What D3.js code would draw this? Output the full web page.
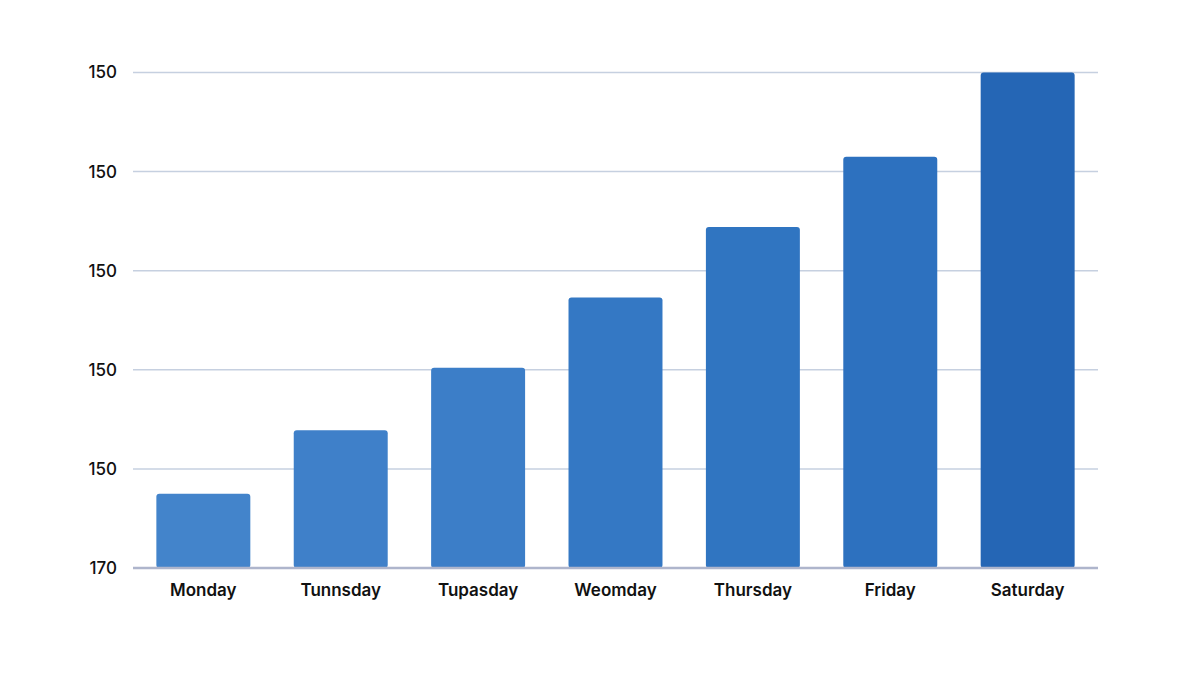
<!DOCTYPE html>
<html><head><meta charset="utf-8">
<script src="https://cdn.jsdelivr.net/npm/d3@7"></script>
<style>body{margin:0;background:#fff}</style></head>
<body><svg id="c" width="1200" height="678"></svg>
<script>
const categories=["Monday","Tunnsday","Tupasday","Weomday","Thursday","Friday","Saturday"];
const values=[0.75,1.39,2.02,2.73,3.44,4.15,5.0];
const tickValues=[0,1,2,3,4,5];
const tickLabels=["170","150","150","150","150","150"];
const barColors=["#4384cb","#3f80c9","#3c7ec8","#3478c4","#3075c1","#2d71bf","#2566b5"];

const svg=d3.select("#c");
const x=d3.scaleBand().domain(categories).range([133,1098]).paddingInner(0.316).paddingOuter(0.17);
const y=d3.scaleLinear().domain([0,5]).range([568,72.5]);

svg.append("g").selectAll("line").data(tickValues.slice(1)).join("line")
 .attr("x1",133).attr("x2",1098).attr("y1",d=>y(d)).attr("y2",d=>y(d))
 .attr("stroke","#c6d0e0").attr("stroke-width",1.5);

svg.append("g").selectAll("rect").data(values).join("rect")
 .attr("x",(d,i)=>x(categories[i])).attr("width",x.bandwidth())
 .attr("y",d=>y(d)).attr("height",d=>y(0)-y(d)).attr("rx",3)
 .attr("fill",(d,i)=>barColors[i]);

svg.append("line").attr("x1",133).attr("x2",1098).attr("y1",y(0)).attr("y2",y(0))
 .attr("stroke","#aeb5cc").attr("stroke-width",2.5);

svg.append("g").selectAll("text").data(tickValues).join("text")
 .attr("x",117).attr("y",d=>y(d)).attr("dy","0.35em").attr("text-anchor","end")
 .attr("font-family","Inter, Roboto, sans-serif").attr("font-size",17).attr("font-weight",500)
 .attr("fill","#111").text((d,i)=>tickLabels[i]);

svg.append("g").selectAll("text").data(categories).join("text")
 .attr("x",d=>x(d)+x.bandwidth()/2).attr("y",596).attr("text-anchor","middle")
 .attr("font-family","Inter, Roboto, sans-serif").attr("font-size",17).attr("font-weight",600)
 .attr("fill","#111").text(d=>d);
</script></body></html>
